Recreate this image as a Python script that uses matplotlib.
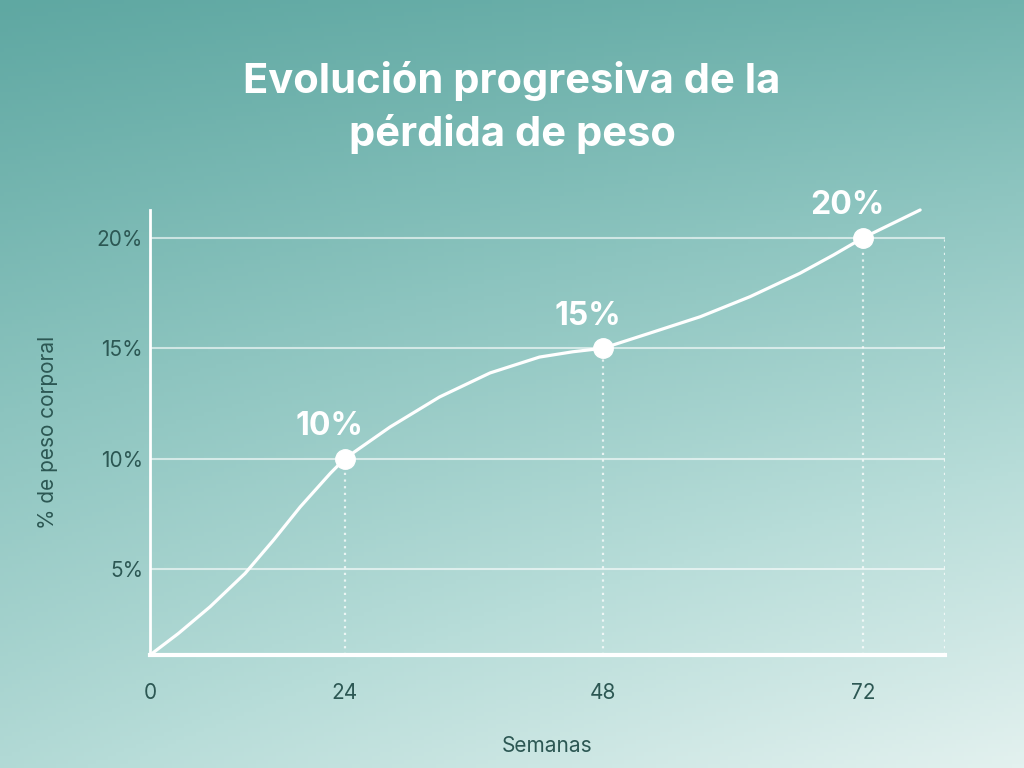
import numpy as np
import matplotlib
matplotlib.use("Agg")
import matplotlib.pyplot as plt
from matplotlib.colors import LinearSegmentedColormap

# Data
weeks = [0, 3.5, 7.4, 11.7, 15.2, 18.5, 22.2, 24,
         28.2, 32.8, 37.5, 42.1, 45.2, 48,
         52.3, 57.0, 61.6, 66.2, 69.3, 72, 77.3]
loss = [1.09, 2.07, 3.28, 4.79, 6.30, 7.81, 9.33, 10.0,
        11.43, 12.79, 13.88, 14.60, 14.84, 15.0,
        15.68, 16.43, 17.34, 18.40, 19.23, 20.0, 21.27]
mark_weeks = [24, 48, 72]
mark_loss = [10, 15, 20]
mark_labels = ["10%", "15%", "20%"]
y_ticks = [5, 10, 15, 20]
y_ticklabels = ["5%", "10%", "15%", "20%"]
x_ticks = [0, 24, 48, 72]

# x axis in the picture is not evenly spaced: first 24 weeks are squeezed
knots_w = [0, 24, 48, 72, 120]
knots_p = [0, 195, 453, 713, 713 + 48 * 10.83]


def fwd(x):
    return np.interp(x, knots_w, knots_p)


def inv(p):
    return np.interp(p, knots_p, knots_w)


plt.rcParams['font.family'] = ['Inter', 'DejaVu Sans']
TICK_COL = "#2c5753"

fig = plt.figure(figsize=(10.24, 7.68), dpi=100)

# background gradient
bg = fig.add_axes([0, 0, 1, 1])
bg.set_axis_off()
xx, yy = np.meshgrid(np.linspace(0, 1, 256), np.linspace(0, 1, 192))
t = np.clip(0.13 * xx + 0.62 * yy + 0.25 * xx * yy, 0, 1)
cmap = LinearSegmentedColormap.from_list(
    "bg", ["#5fa8a2", "#8cc4bf", "#b8ddd9", "#e3f1ef"])
bg.imshow(t, cmap=cmap, aspect="auto", extent=[0, 1, 0, 1], origin="upper",
          vmin=0, vmax=1)

fig.text(0.5, 0.86, "Evolución progresiva de la\npérdida de peso",
         ha="center", va="center", color="white", fontsize=30,
         fontweight="bold", linespacing=1.4)

ax = fig.add_axes([0.1465, 0.1471, 0.7764, 0.5795])
ax.set_facecolor("none")
ax.set_xscale("function", functions=(fwd, inv))
ax.set_xlim(0, 79.6)
ax.set_ylim(1.09, 21.27)

for s in ["top", "right"]:
    ax.spines[s].set_visible(False)
ax.spines["left"].set_color("white")
ax.spines["left"].set_linewidth(2)
ax.spines["bottom"].set_color("white")
ax.spines["bottom"].set_linewidth(3)

# grid lines
for v in y_ticks:
    ax.axhline(v, color="white", lw=1.5, alpha=0.6, zorder=1)

# dotted drop lines
ax.vlines(mark_weeks, 1.09, mark_loss, colors="white", linestyles=(0, (1, 2)),
          lw=1.6, alpha=0.75, zorder=1)
ax.vlines([79.6], 1.09, 20, colors="white", linestyles=(0, (1, 2)),
          lw=1.6, alpha=0.75, zorder=1)

ax.plot(weeks, loss, color="white", lw=2.3, solid_capstyle="round",
        solid_joinstyle="round", clip_on=False, zorder=3)
ax.plot(mark_weeks, mark_loss, "o", color="white", ms=14, zorder=4,
        clip_on=False)
for w, v, lab in zip(mark_weeks, mark_loss, mark_labels):
    ax.annotate(lab, (w, v), xytext=(-11, 12), textcoords="offset points",
                ha="center", va="bottom", color="white", fontsize=23,
                fontweight="bold")

ax.set_yticks(y_ticks)
ax.set_yticklabels(y_ticklabels)
ax.set_xticks(x_ticks)
ax.set_xticklabels([str(w) for w in x_ticks])
ax.tick_params(length=0, colors=TICK_COL, labelsize=15)
ax.tick_params(axis="x", pad=20)
ax.tick_params(axis="y", pad=5)

ax.set_xlabel("Semanas", color=TICK_COL, fontsize=15, labelpad=24)
ax.set_ylabel("% de peso corporal", color=TICK_COL, fontsize=15, labelpad=28)

fig.savefig("out.png", dpi=100)
